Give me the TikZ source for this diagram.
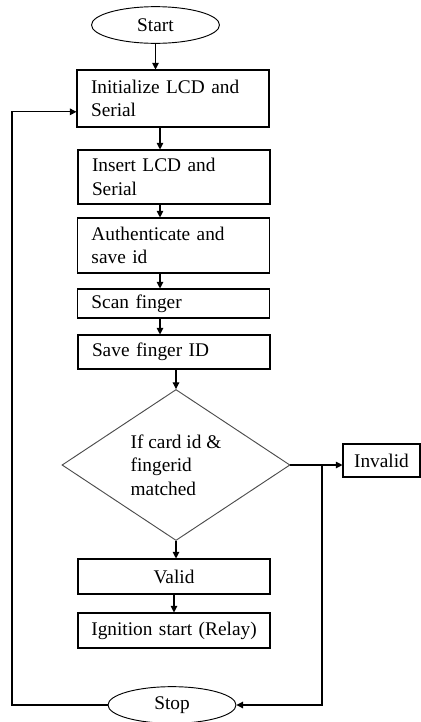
\documentclass[tikz,border=0pt]{standalone}
\usepackage{fontspec}
\setmainfont{Liberation Serif}
\usepackage{tikz}
\usetikzlibrary{positioning,calc,shapes.geometric,arrows.meta}

\begin{document}
\begin{tikzpicture}[x=0.75pt,y=-0.75pt,
    every node/.style={font=\fontsize{14.5}{17.5}\selectfont},
    box/.style={draw,line width=0.8pt,minimum width=144pt,inner xsep=10.5pt,inner ysep=2pt,text width=123pt,align=left},
    cbox/.style={box,inner xsep=4pt,text width=136pt,align=center},
    term/.style={draw,ellipse,line width=0.7pt,minimum width=96pt,minimum height=27.5pt,inner sep=0pt},
    decide/.style={draw=black!70,diamond,aspect=1.5,line width=0.7pt,minimum width=171pt,minimum height=113.25pt,inner sep=0pt,align=left},
    arr/.style={line width=0.8pt,-{Triangle[length=5pt,width=5pt]}}]
    \useasboundingbox (0,0) rectangle (421,722);
    % terminals
    \node[term] (start) at (155.5,25) {Start};
    \node[term] (stop) at (172,705) {Stop};
    % process steps
    \node[box,minimum height=42.75pt] (init) at (173,98.5) {Initialize LCD and\\Serial};
    \node[box,minimum height=40.5pt] (insert) at (174,177) {Insert LCD and\\Serial};
    \node[box,minimum height=41.25pt] (auth) at (173.5,245.5) {Authenticate and\\save id};
    \node[box,minimum height=21.75pt] (scan) at (173.5,303.5) {Scan finger};
    \node[box,minimum height=25.5pt] (saveid) at (174,352) {Save finger ID};
    % check
    \node[decide] (match) at (176,465) {If card id \&\\fingerid\\matched};
    \node[cbox,minimum height=26.25pt] (valid) at (174,576.5) {Valid};
    \node[cbox,minimum height=26.25pt] (ignite) at (174,630.5) {Ignition start (Relay)};
    \node[draw,line width=0.8pt,minimum width=57.75pt,minimum height=24.75pt,inner sep=1pt] (invalid) at (381.5,460.5) {Invalid};
    % helper points
    \coordinate (spine) at (160,0);
    \coordinate (split) at (322,465);
    \coordinate (back) at (12,0);
    % main flow
    \draw[arr] (start.south) -- (start.south |- init.north);
    \draw[arr] (init.south -| spine) -- (insert.north -| spine);
    \draw[arr] (insert.south -| spine) -- (auth.north -| spine);
    \draw[arr] (auth.south -| spine) -- (scan.north -| spine);
    \draw[arr] (scan.south -| spine) -- (saveid.north -| spine);
    \draw[arr] (saveid.south -| match.north) -- (match.north);
    \draw[arr] (match.south) -- (match.south |- valid.north);
    \draw[arr] (valid.south) -- (ignite.north);
    % invalid branch
    \draw[arr] (match.east) -- (match.east -| invalid.west);
    \draw[arr] (split) |- (stop.east);
    % loop back
    \draw[arr] (stop.west) -- (stop.west -| back) |- ([yshift=-10pt]init.west);
\end{tikzpicture}
\end{document}
